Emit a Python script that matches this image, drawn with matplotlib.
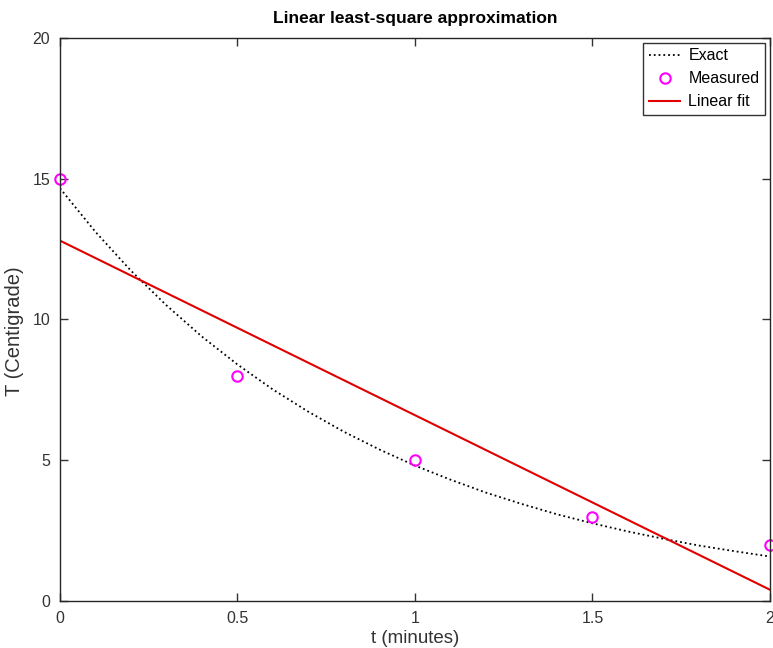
import numpy as np
import matplotlib.pyplot as plt

plt.rcParams['font.family'] = ['Liberation Sans', 'DejaVu Sans']

# measured temperatures
t_meas = [0, 0.5, 1.0, 1.5, 2.0]
T_meas = [15, 8, 5, 3, 2]

# exact cooling curve, sampled every 0.1 min
t_exact = [0.0, 0.1, 0.2, 0.3, 0.4, 0.5, 0.6, 0.7, 0.8, 0.9, 1.0,
           1.1, 1.2, 1.3, 1.4, 1.5, 1.6, 1.7, 1.8, 1.9, 2.0]
T_exact = [14.66, 13.11, 11.73, 10.50, 9.39, 8.40, 7.51, 6.72, 6.01, 5.38, 4.81,
           4.31, 3.85, 3.45, 3.08, 2.76, 2.47, 2.21, 1.97, 1.77, 1.58]

# least squares straight line through the measurements
coef = np.polyfit(t_meas, T_meas, 1)
t_fit = [0, 2]
T_fit = np.polyval(coef, t_fit)

fig = plt.figure(figsize=(7.73, 6.48), dpi=100)
ax = fig.add_axes([0.0776, 0.0725, 0.9185, 0.869])

ax.plot(t_exact, T_exact, color='black', linestyle=':', linewidth=1.3, label='Exact')
ax.plot(t_meas, T_meas, 'o', color='#ff00ff', markerfacecolor='none',
        markersize=7.5, markeredgewidth=1.5, label='Measured', clip_on=False)
ax.plot(t_fit, T_fit, color='#e00000', linewidth=1.5, label='Linear fit')

ax.set_xlim(0, 2)
ax.set_ylim(0, 20)
ax.set_xticks([0, 0.5, 1, 1.5, 2])
ax.set_xticklabels(['0', '0.5', '1', '1.5', '2'])
ax.set_yticks([0, 5, 10, 15, 20])
ax.tick_params(direction='in', length=6, width=1, top=True, right=True,
               labelsize=11.5, colors='#333333', pad=7)
for s in ax.spines.values():
    s.set_color('#262626')
    s.set_linewidth(1)

ax.set_xlabel('t (minutes)', fontsize=13.5, color='#333333', labelpad=3)
ax.set_ylabel('T (Centigrade)', fontsize=14.5, color='#333333')
ax.yaxis.set_label_coords(-0.05, 0.48)
ax.set_title('Linear least-square approximation', fontsize=12.5, fontweight='bold', pad=11)

leg = ax.legend(loc='upper right', fontsize=11.5, frameon=True, fancybox=False,
                borderaxespad=0.3, handlelength=2.0, handletextpad=0.5,
                labelspacing=0.5, borderpad=0.35)
leg.get_frame().set_edgecolor('black')
leg.get_frame().set_linewidth(1)

plt.savefig('out.png', dpi=100)
